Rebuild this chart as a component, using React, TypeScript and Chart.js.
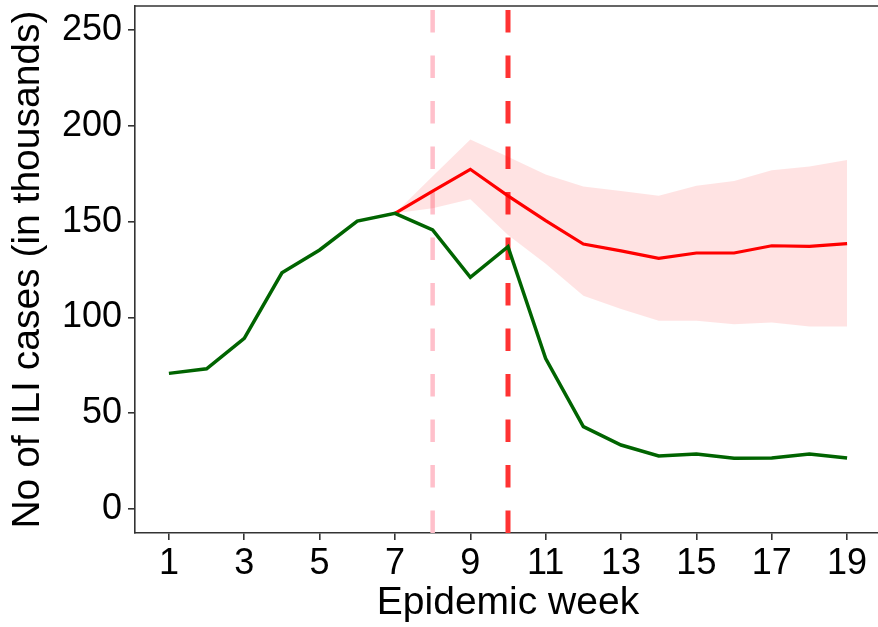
import React, { useEffect, useRef } from 'react';
import { Chart, registerables } from 'chart.js';

Chart.register(...registerables);

const weeks = [1, 2, 3, 4, 5, 6, 7, 8, 9, 10, 11, 12, 13, 14, 15, 16, 17, 18, 19];
const observed = [70.8, 73.2, 89.1, 123.3, 135.2, 150.3, 154.3, 145.6, 120.9, 136.9, 78.5, 43.0, 33.4, 27.7, 28.7, 26.5, 26.6, 28.7, 26.6];
const forecastWeeks = [7, 8, 9, 10, 11, 12, 13, 14, 15, 16, 17, 18, 19];
const forecast = [154.3, 165.9, 177.3, 163.4, 150.5, 138.3, 134.7, 130.8, 133.6, 133.6, 137.4, 137.1, 138.5];
const upperBound = [154.3, 173.7, 192.9, 183.9, 174.6, 168.3, 166.0, 163.5, 168.7, 171.2, 176.8, 178.7, 182.2];
const lowerBound = [154.3, 157.0, 161.6, 143.0, 128.0, 111.3, 104.4, 98.3, 98.3, 96.4, 97.4, 95.2, 95.2];
const pinkMarkerWeek = 8;
const redMarkerWeek = 10;
const yTicks = [0, 50, 100, 150, 200, 250];
const xTicks = [1, 3, 5, 7, 9, 11, 13, 15, 17, 19];
const yMin = -12.5;
const yMax = 262.5;
const xMin = 0.1;
const xMax = 19.9;

const FONT = '"Liberation Sans", Arial, Helvetica, sans-serif';

const toPts = (xs: number[], ys: number[]) => xs.map((x, i) => ({ x, y: ys[i] }));

const topBorder = {
  id: 'topBorder',
  afterDraw(chart: any) {
    const { ctx, chartArea } = chart;
    ctx.save();
    ctx.strokeStyle = '#333333';
    ctx.lineWidth = 1.6;
    ctx.beginPath();
    ctx.moveTo(chartArea.left, chartArea.top);
    ctx.lineTo(chartArea.right, chartArea.top);
    ctx.lineTo(chartArea.right, chartArea.bottom);
    ctx.stroke();
    ctx.restore();
  },
};

export default function App() {
  const ref = useRef<HTMLCanvasElement | null>(null);

  useEffect(() => {
    if (!ref.current) return;
    const chart = new Chart(ref.current, {
      type: 'line',
      data: {
        datasets: [
          {
            data: toPts(weeks, observed),
            borderColor: '#006400',
            borderWidth: 3.5,
            pointRadius: 0,
            fill: false,
            tension: 0,
          },
          {
            data: toPts(forecastWeeks, forecast),
            borderColor: '#FF0000',
            borderWidth: 3.2,
            pointRadius: 0,
            fill: false,
            tension: 0,
          },
          {
            data: toPts(forecastWeeks, upperBound),
            borderWidth: 0,
            borderColor: 'rgba(0,0,0,0)',
            backgroundColor: 'rgba(255,0,0,0.11)',
            pointRadius: 0,
            fill: 3,
            tension: 0,
          },
          {
            data: toPts(forecastWeeks, lowerBound),
            borderWidth: 0,
            borderColor: 'rgba(0,0,0,0)',
            pointRadius: 0,
            fill: false,
            tension: 0,
          },
          {
            data: [
              { x: redMarkerWeek, y: yMin },
              { x: redMarkerWeek, y: yMax },
            ],
            borderColor: '#FF3333',
            borderWidth: 5,
            borderDash: [22.5, 23],
            pointRadius: 0,
            fill: false,
          },
          {
            data: [
              { x: pinkMarkerWeek, y: yMin },
              { x: pinkMarkerWeek, y: yMax },
            ],
            borderColor: '#FFC0CB',
            borderWidth: 4.5,
            borderDash: [22.5, 23],
            pointRadius: 0,
            fill: false,
          },
        ],
      },
      options: {
        responsive: false,
        devicePixelRatio: 1,
        animation: false,
        layout: { padding: { top: 6, right: 3, left: 0, bottom: 0 } },
        plugins: {
          legend: { display: false },
          tooltip: { enabled: false },
        },
        scales: {
          x: {
            type: 'linear',
            min: xMin,
            max: xMax,
            afterBuildTicks: (scale: any) => {
              scale.ticks = xTicks.map((v) => ({ value: v }));
            },
            afterFit: (scale: any) => {
              scale.height = 94;
              scale.paddingLeft = 0;
              scale.paddingRight = 0;
            },
            grid: {
              display: true,
              drawOnChartArea: false,
              drawTicks: true,
              tickLength: 7,
              color: '#333333',
              lineWidth: 1.6,
            },
            border: { display: true, color: '#333333', width: 1.6 },
            ticks: {
              autoSkip: false,
              maxRotation: 0,
              padding: 2,
              color: '#000000',
              font: { family: FONT, size: 36 },
              callback: (v: any) => String(v),
            },
            title: {
              display: true,
              text: 'Epidemic week',
              color: '#000000',
              font: { family: FONT, size: 39 },
              padding: { top: 0, bottom: 0 },
            },
          },
          y: {
            type: 'linear',
            min: yMin,
            max: yMax,
            afterBuildTicks: (scale: any) => {
              scale.ticks = yTicks.map((v) => ({ value: v }));
            },
            afterFit: (scale: any) => {
              scale.width = 135;
              scale.paddingTop = 0;
              scale.paddingBottom = 0;
            },
            grid: {
              display: true,
              drawOnChartArea: false,
              drawTicks: true,
              tickLength: 7,
              color: '#333333',
              lineWidth: 1.6,
            },
            border: { display: true, color: '#333333', width: 1.6 },
            ticks: {
              padding: 6,
              color: '#000000',
              font: { family: FONT, size: 36 },
              callback: (v: any) => String(v),
            },
            title: {
              display: true,
              text: 'No of ILI cases (in thousands)',
              color: '#000000',
              font: { family: FONT, size: 39 },
              padding: { top: 5, bottom: 0 },
            },
          },
        },
      },
      plugins: [topBorder],
    } as any);
    return () => chart.destroy();
  }, []);

  return (
    <div
      style={{
        position: 'fixed',
        left: 0,
        top: 0,
        width: 878,
        height: 627,
        overflow: 'hidden',
        background: '#ffffff',
      }}
    >
      <canvas ref={ref} width={884} height={627} style={{ display: 'block', width: 884, height: 627 }} />
    </div>
  );
}
